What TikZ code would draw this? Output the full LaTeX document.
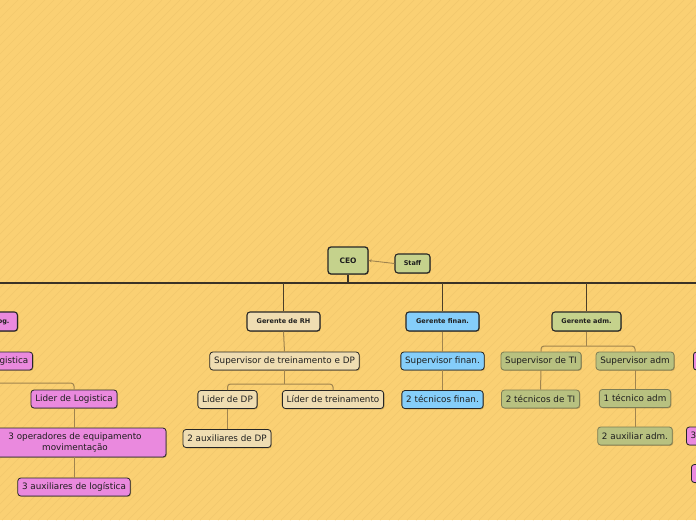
\documentclass[tikz,border=0pt]{standalone}
\usepackage{fontspec}
\setmainfont{DejaVu Sans}
\usetikzlibrary{arrows.meta,shadows,calc}
\definecolor{bgc}{RGB}{250,208,115}
\definecolor{stripec}{RGB}{243,201,110}
\definecolor{mainc}{RGB}{58,50,38}
\definecolor{branchc}{RGB}{75,62,40}
\definecolor{subc}{RGB}{160,132,78}
\definecolor{pinkc}{RGB}{234,137,222}
\definecolor{beigec}{RGB}{239,221,178}
\definecolor{bluec}{RGB}{133,206,250}
\definecolor{greenc}{RGB}{197,210,140}
\definecolor{olivec}{RGB}{184,193,128}
\definecolor{oliveb}{RGB}{125,125,85}
\definecolor{txtc}{RGB}{30,30,30}
\tikzset{
  box/.style={rounded corners=3pt, draw=black!85, line width=0.8pt, text=txtc,
    font=\fontsize{8.8}{10.5}\selectfont, inner xsep=4.3pt, inner ysep=0pt,
    minimum height=18pt,
    drop shadow={shadow xshift=0.8pt,shadow yshift=-0.8pt,opacity=0.25,fill=black}},
  mgr/.style={box, font=\bfseries\fontsize{6.5}{8}\selectfont, line width=1.1pt,
    minimum height=19pt, inner xsep=8pt},
  pinkbox/.style={fill=pinkc},
  beigebox/.style={fill=beigec},
  bluebox/.style={fill=bluec},
  greenbox/.style={fill=greenc},
  olivebox/.style={fill=olivec, draw=oliveb},
  mainline/.style={draw=mainc, line width=1.6pt},
  branch/.style={draw=branchc, line width=1.2pt, rounded corners=3pt},
  subline/.style={draw=subc, line width=1pt, rounded corners=3pt},
}
\begin{document}
\begin{tikzpicture}[x=1pt,y=-1pt]
\fill[bgc] (0,0) rectangle (696,520);
\useasboundingbox (0,0) rectangle (696,520);
\begin{scope}
\clip (0,0) rectangle (696,520);
\foreach \i in {-520,-511,...,700} {
  \draw[stripec, line width=0.7pt] (\i,520) -- (\i+520,0);
}
\end{scope}

% top
\node[mgr, greenbox, minimum width=40pt, minimum height=27pt, font=\bfseries\fontsize{7.5}{9}\selectfont, line width=1.3pt] (ceo) at (348,260.5) {CEO};
\node[mgr, greenbox, minimum width=35pt, inner xsep=4pt] (staff) at (412.5,263.5) {Staff};
\draw[subc, line width=0.9pt, -{Stealth[length=3pt,width=3pt]}] (staff.west) -- (ceo.east);

\coordinate (mL) at (0,283);
\coordinate (mR) at (696,283);
\draw[mainline] (mL) -- (mR);
\coordinate (ceoBar) at (348,283);
\draw[mainc, line width=1.3pt] (ceo.south) -- (ceoBar);

% managers
\node[mgr, pinkbox, anchor=east] (glog) at (18,321.5) {Gerente de log.};
\node[mgr, beigebox, minimum width=73pt] (grh) at (283.5,321.5) {Gerente de RH};
\node[mgr, bluebox, minimum width=73pt] (gfin) at (442.5,321.5) {Gerente finan.};
\node[mgr, greenbox, minimum width=69pt] (gadm) at (586.5,321.5) {Gerente adm.};

\draw[branch] (grh.north |- mL) -- (grh.north);
\draw[branch] (gfin.north |- mL) -- (gfin.north);
\draw[branch] (gadm.north |- mL) -- (gadm.north);

% logistics (left, pink)
\node[box, pinkbox, anchor=east] (slog) at (33,361) {Supervisor de Logistica};
\node[box, pinkbox] (llog) at (74,399) {Lider de Logistica};
\node[box, pinkbox, align=center, minimum width=182pt, minimum height=29pt, font=\fontsize{8.8}{11.5}\selectfont] (olog) at (75,442.5) {3 operadores de equipamento\\movimentação};
\node[box, pinkbox] (alog) at (74,487) {3 auxiliares de logística};
\draw[subline] (slog.south) -- (slog.south |- 0,383) -- (llog.north |- 0,383) -- (llog.north);
\draw[subline] (llog.south) -- (llog.south |- olog.north);
\draw[subline] (llog.south |- olog.south) -- (alog.north);

% RH (beige)
\node[box, beigebox] (srh) at (284.5,361) {Supervisor de treinamento e DP};
\node[box, beigebox] (ldp) at (227.5,399.5) {Lider de DP};
\node[box, beigebox] (ltr) at (333,399.5) {Líder de treinamento};
\node[box, beigebox] (adp) at (227,438.5) {2 auxiliares de DP};
\draw[subline] (grh.south) -- (srh.north);
\draw[subline] (srh.south) -- (srh.south |- 0,384);
\draw[subline] (ldp.north) -- (ldp.north |- 0,384) -- (ltr.north |- 0,384) -- (ltr.north);
\draw[subline] (ldp.south) -- (ldp.south |- adp.north);

% finance (blue)
\node[box, bluebox] (sfin) at (442.5,361) {Supervisor finan.};
\node[box, bluebox] (tfin) at (442.5,399.5) {2 técnicos finan.};
\draw[subline] (gfin.south) -- (sfin.north);
\draw[subline] (sfin.south) -- (tfin.north);

% adm (olive)
\node[box, olivebox] (sti) at (541,361) {Supervisor de TI};
\node[box, olivebox] (sadm) at (635,361) {Supervisor adm};
\node[box, olivebox] (tti) at (540.5,399) {2 técnicos de TI};
\node[box, olivebox] (tadm) at (635,398.5) {1 técnico adm};
\node[box, olivebox] (aadm) at (635,436) {2 auxiliar adm.};
\draw[subline] (gadm.south) -- (gadm.south |- 0,346);
\draw[subline] (sti.north) -- (sti.north |- 0,346) -- (sadm.north |- 0,346) -- (sadm.north);
\draw[subline] (sti.south) -- (tti.north);
\draw[subline] (sadm.south) -- (tadm.north);
\draw[subline] (tadm.south) -- (aadm.north);

% right (pink, cut off)
\node[box, pinkbox, anchor=west] (sprod) at (693,361) {Supervisor};
\node[box, pinkbox, anchor=west] (oprod) at (686,436) {3 operadores};
\node[box, pinkbox, anchor=west] (aprod) at (691,473.5) {auxiliares};
\end{tikzpicture}
\end{document}
